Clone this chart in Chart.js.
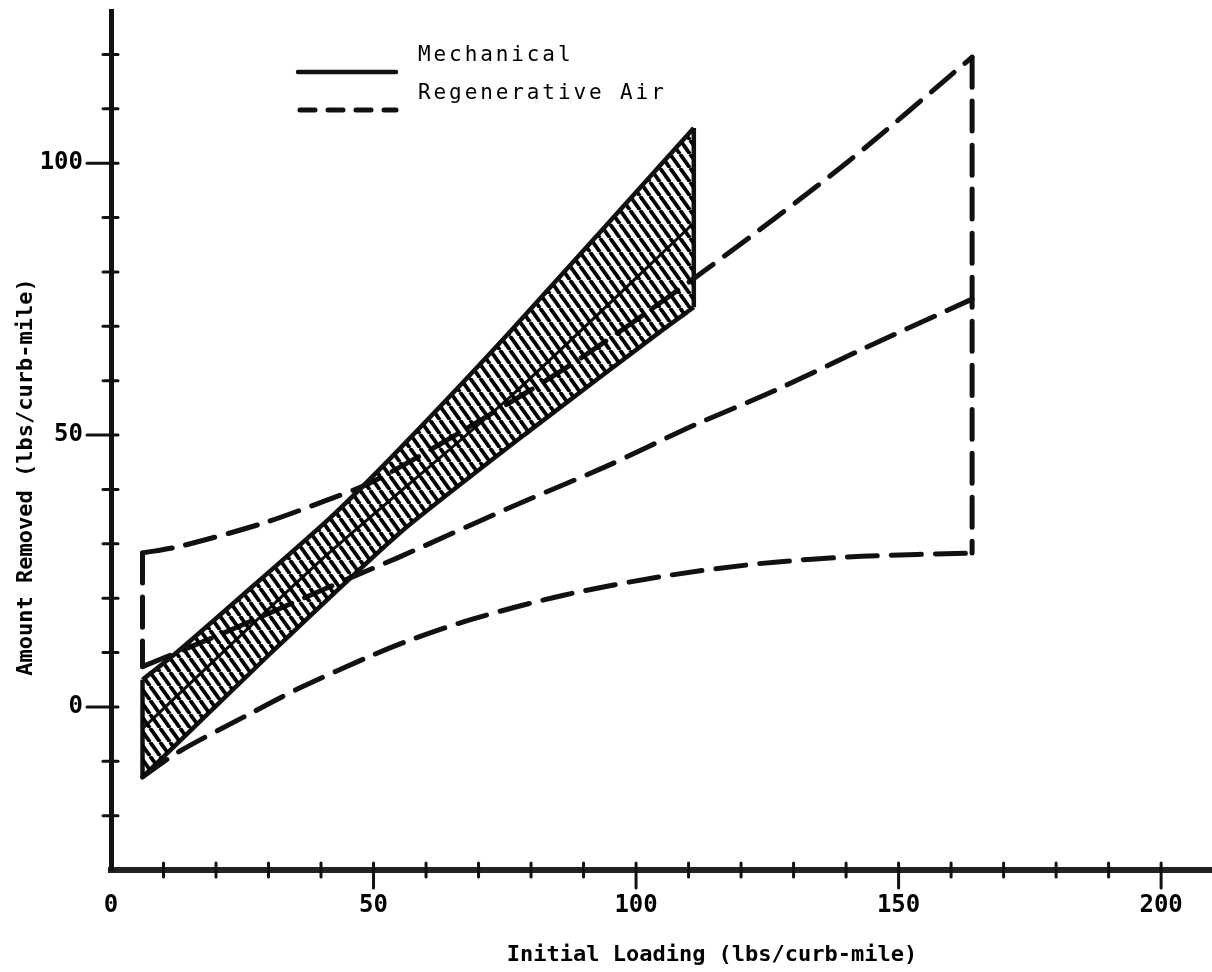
<!DOCTYPE html>
<html>
<head>
<meta charset="utf-8">
<title>Amount Removed vs Initial Loading</title>
<script src="https://cdn.jsdelivr.net/npm/chart.js@4.4.0/dist/chart.umd.min.js"></script>
<style>
  html, body { margin: 0; padding: 0; background: #fff; }
  #wrap { width: 1212px; height: 972px; position: relative; }
</style>
</head>
<body>
<div id="wrap"><canvas id="myChart"></canvas></div>
<script>
// [initial loading, amount removed], both in lbs/curb-mile
const mechUpper = [[6, 5], [12, 9.6], [25, 20.5], [42, 35], [55, 47.5], [76, 69], [111, 106.5]];
const mechLower = [[6, -12.9], [30, 9.5], [55, 32], [80, 51], [105, 69.3], [111, 73.5]];
const mechMean = [[6, -4], [40, 27], [76, 57], [111, 89]];

const regenUpper = [[6, 28.3], [13, 29.5], [29, 33.8], [41, 38], [50, 41.5], [70, 52.5], [90, 64.5], [114, 80.9], [140, 100], [164, 119.5]];
const regenMid = [[6, 7.4], [20, 13], [45, 23.5], [55, 27.6], [77, 37.1], [94, 44.1], [111, 51.8], [126, 58], [144, 66.2], [164, 75]];
const regenLower = [[6, -12.9], [13, -8.2], [26, -1.5], [36, 3.5], [50, 9.6], [57, 12.3], [69, 16.2], [86, 20.5], [105, 24], [124, 26.4], [143, 27.7], [164, 28.3]];

const xTicks = [0, 50, 100, 150, 200];
const yTicks = [0, 50, 100];
const legendItems = ['Mechanical', 'Regenerative Air'];
const xTitle = 'Initial Loading (lbs/curb-mile)';
const yTitle = 'Amount Removed (lbs/curb-mile)';

const INK = '#111';
const BOLD = 'bold 22px "DejaVu Sans Mono", monospace';

const first = a => a[0];
const last = a => a[a.length - 1];
const toXY = pts => pts.map(([x, y]) => ({ x, y }));

// diagonal hatching for the mechanical band (gaps left transparent)
function hatch() {
  const c = document.createElement('canvas');
  c.width = 10;
  c.height = 14;
  const g = c.getContext('2d');
  g.strokeStyle = '#000';
  g.lineWidth = 3.8;
  for (const dx of [-10, 0, 10]) {
    g.beginPath();
    g.moveTo(dx, 0);
    g.lineTo(dx + 10, 14);
    g.stroke();
  }
  return g.createPattern(c, 'repeat');
}

const solid = (pts, w) => ({
  data: toXY(pts),
  borderColor: INK,
  borderWidth: w,
  pointRadius: 0,
  fill: false,
  tension: 0.2,
});

const dashed = pts => ({
  data: toXY(pts),
  borderColor: INK,
  borderWidth: 5,
  borderDash: [30, 14],
  borderCapStyle: 'round',
  pointRadius: 0,
  fill: false,
  tension: 0.3,
});

// dataset 0 is drawn last, so its hatched fill lies over the lines below it
const datasets = [
  Object.assign(solid(mechUpper, 4.5), { fill: 1, backgroundColor: hatch() }),
  solid(mechLower, 4.5),
  solid(mechMean, 3),
  solid([first(mechUpper), first(mechLower)], 4.5),
  solid([last(mechUpper), last(mechLower)], 4.5),
  dashed(regenUpper),
  dashed(regenMid),
  dashed(regenLower),
  dashed([first(regenUpper), first(regenMid)]),
  dashed([last(regenUpper), last(regenLower)]),
];

// cross ticks on the axes, axis titles and the key
const decorations = {
  id: 'decorations',
  afterDraw(chart) {
    const { ctx, chartArea, scales: { x, y } } = chart;
    ctx.save();
    ctx.strokeStyle = INK;
    ctx.lineWidth = 3;
    ctx.lineCap = 'round';

    x.ticks.forEach(t => {
      if (t.value <= 0 || t.value % 10) return;
      const px = x.getPixelForValue(t.value);
      const major = t.value % 50 === 0;
      ctx.beginPath();
      ctx.moveTo(px, chartArea.bottom - 7);
      ctx.lineTo(px, chartArea.bottom + (major ? 18 : 7));
      ctx.stroke();
    });

    y.ticks.forEach(t => {
      if (t.value <= y.min || t.value % 10) return;
      const py = y.getPixelForValue(t.value);
      const major = t.value % 50 === 0;
      ctx.beginPath();
      ctx.moveTo(chartArea.left - (major ? 24 : 8), py);
      ctx.lineTo(chartArea.left + 7, py);
      ctx.stroke();
    });

    ctx.fillStyle = '#000';
    ctx.font = BOLD;
    ctx.textAlign = 'center';
    ctx.textBaseline = 'middle';
    ctx.fillText(xTitle, 712, 955);
    ctx.save();
    ctx.translate(26, 477);
    ctx.rotate(-Math.PI / 2);
    ctx.fillText(yTitle, 0, 0);
    ctx.restore();

    // key
    ctx.lineWidth = 4.5;
    ctx.beginPath();
    ctx.moveTo(298, 72);
    ctx.lineTo(396, 72);
    ctx.stroke();
    ctx.lineWidth = 5;
    ctx.setLineDash([15, 13]);
    ctx.beginPath();
    ctx.moveTo(300, 110);
    ctx.lineTo(396, 110);
    ctx.stroke();
    ctx.setLineDash([]);

    ctx.font = '21px "DejaVu Sans Mono", monospace';
    ctx.letterSpacing = '2.9px';
    ctx.textAlign = 'left';
    ctx.textBaseline = 'alphabetic';
    ctx.fillText(legendItems[0], 418, 61);
    ctx.fillText(legendItems[1], 418, 99);
    ctx.restore();
  }
};

const tickFont = { family: '"DejaVu Sans Mono", monospace', size: 24, weight: 'bold' };

const config = {
  type: 'line',
  data: { datasets },
  options: {
    animation: false,
    responsive: true,
    maintainAspectRatio: false,
    layout: { padding: { top: 11, right: 1, left: 0, bottom: 0 } },
    plugins: {
      legend: { display: false },
      tooltip: { enabled: false },
    },
    scales: {
      x: {
        type: 'linear',
        min: 0,
        max: 209.5,
        afterFit: s => { s.height = 102; s.paddingLeft = 0; s.paddingRight = 0; },
        grid: { drawOnChartArea: false, drawTicks: false },
        border: { display: true, color: '#222', width: 6 },
        ticks: {
          stepSize: 10,
          autoSkip: false,
          includeBounds: false,
          maxRotation: 0,
          padding: 21,
          color: '#000',
          font: tickFont,
          callback: v => xTicks.includes(v) ? v : '',
        },
      },
      y: {
        type: 'linear',
        min: -30,
        max: 128,
        afterFit: s => { s.width = 111; s.paddingTop = 0; s.paddingBottom = 0; },
        grid: { drawOnChartArea: false, drawTicks: false },
        border: { display: true, color: INK, width: 5 },
        ticks: {
          stepSize: 10,
          autoSkip: false,
          includeBounds: false,
          padding: 28,
          color: '#000',
          font: tickFont,
          callback: v => yTicks.includes(v) ? v : '',
        },
      },
    },
  },
  plugins: [decorations],
};

const myChart = new Chart(document.getElementById('myChart'), config);
</script>
</body>
</html>
